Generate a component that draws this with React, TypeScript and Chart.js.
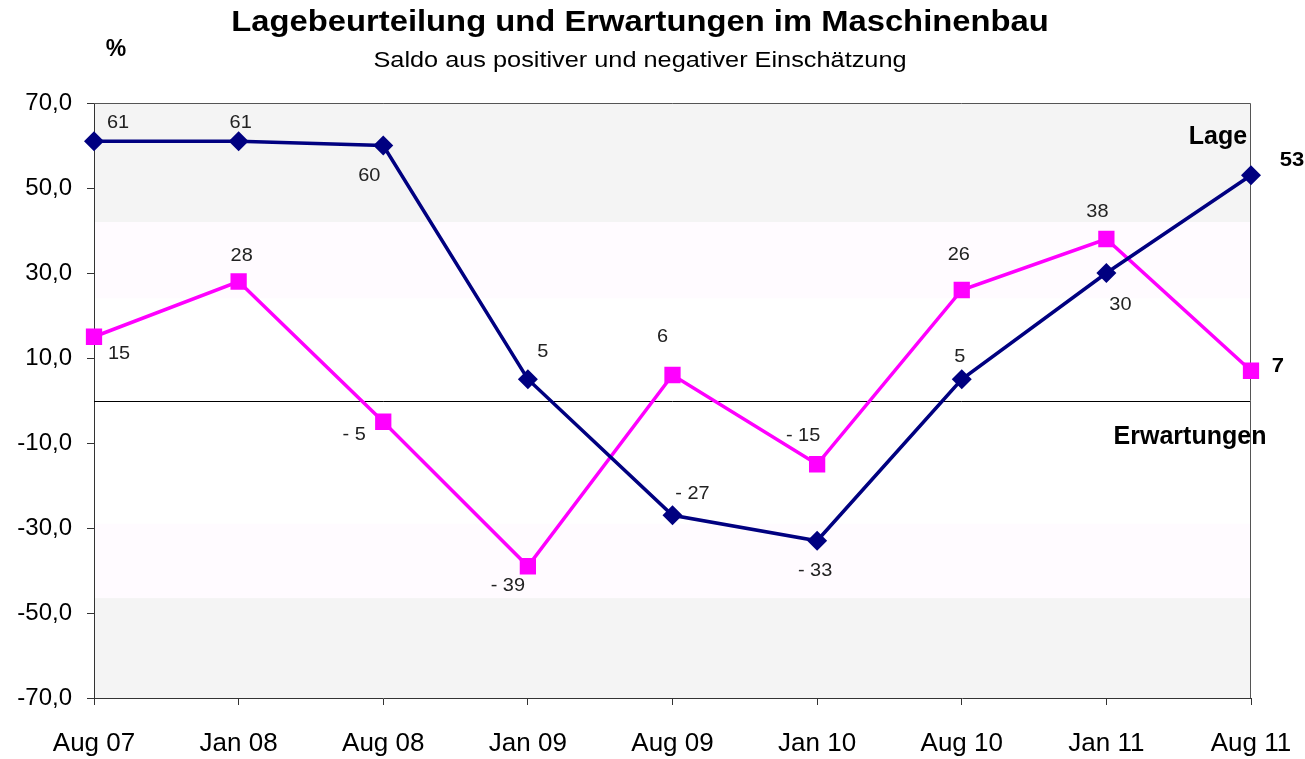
import React, { useEffect, useRef } from "react";
import { Chart, registerables } from "chart.js";

Chart.register(...registerables);

const categories = ["Aug 07", "Jan 08", "Aug 08", "Jan 09", "Aug 09", "Jan 10", "Aug 10", "Jan 11", "Aug 11"];
const lageValues = [61, 61, 60, 5, -27, -33, 5, 30, 53];
const erwartungenValues = [15, 28, -5, -39, 6, -15, 26, 38, 7];
const lageLabels = ["61", "61", "60", "5", "- 27", "- 33", "5", "30", "53"];
const erwartungenLabels = ["15", "28", "- 5", "- 39", "6", "- 15", "26", "38", "7"];
const yTicks = [70, 50, 30, 10, -10, -30, -50, -70];
// background band boundaries (value ranges) and fills
const bandRanges: [number, number][] = [[42, 70], [24, 42], [-29, 24], [-46.5, -29], [-70, -46.5]];
const bandColors = ["#f4f4f4", "#fffbff", "#ffffff", "#fffbff", "#f4f4f4"];

// label offsets (px) relative to each point
const lageOffsets: [number, number][] = [[24, -18], [2, -18], [-14, 30], [15, -27], [20, -21], [-2, 30], [-2, -22], [14, 32], [41, -15]];
const erwOffsets: [number, number][] = [[25, 17], [3, -26], [-29, 13], [-20, 20], [-10, -38], [-14, -28], [-3, -35], [-9, -27], [27, -5]];

const FONT = "'Liberation Sans', Arial, sans-serif";

function stretchText(ctx: CanvasRenderingContext2D, text: string, x: number, y: number, font: string, sx: number, align: CanvasTextAlign = "center") {
  ctx.save();
  ctx.font = font;
  ctx.textAlign = align;
  ctx.textBaseline = "middle";
  ctx.translate(x, y);
  ctx.scale(sx, 1);
  ctx.fillText(text, 0, 0);
  ctx.restore();
}

const decorPlugin = {
  id: "decor",
  beforeDraw(chart: any) {
    const { ctx, chartArea: a, scales } = chart;
    const y = scales.y;
    ctx.save();
    bandRanges.forEach((r, i) => {
      const top = y.getPixelForValue(r[1]);
      const bot = y.getPixelForValue(r[0]);
      ctx.fillStyle = bandColors[i];
      ctx.fillRect(a.left, top, a.right - a.left, bot - top);
    });
    ctx.restore();
  },
  beforeDatasetsDraw(chart: any) {
    const { ctx, chartArea: a, scales } = chart;
    const y0 = Math.round(scales.y.getPixelForValue(0)) + 0.5;
    ctx.save();
    ctx.strokeStyle = "#000";
    ctx.lineWidth = 1;
    ctx.beginPath();
    ctx.moveTo(a.left, y0);
    ctx.lineTo(a.right, y0);
    ctx.stroke();
    ctx.strokeStyle = "#555";
    ctx.beginPath();
    ctx.moveTo(a.left, a.top + 0.5);
    ctx.lineTo(a.right - 0.5, a.top + 0.5);
    ctx.lineTo(a.right - 0.5, a.bottom);
    ctx.stroke();
    ctx.restore();
  },
  afterDatasetsDraw(chart: any) {
    const { ctx, chartArea: a, scales } = chart;
    const xs = scales.x;
    const ys = scales.y;
    ctx.save();
    const last = categories.length - 1;
    lageValues.forEach((v, i) => {
      const px = xs.getPixelForValue(i);
      const py = ys.getPixelForValue(v);
      const bold = i === last;
      ctx.fillStyle = bold ? "#000" : "#222";
      stretchText(ctx, lageLabels[i], px + lageOffsets[i][0], py + lageOffsets[i][1], `${bold ? "bold " : ""}${bold ? 21 : 19}px ${FONT}`, 1.05);
    });
    erwartungenValues.forEach((v, i) => {
      const px = xs.getPixelForValue(i);
      const py = ys.getPixelForValue(v);
      const bold = i === last;
      ctx.fillStyle = bold ? "#000" : "#222";
      stretchText(ctx, erwartungenLabels[i], px + erwOffsets[i][0], py + erwOffsets[i][1], `${bold ? "bold " : ""}${bold ? 21 : 19}px ${FONT}`, 1.05);
    });
    ctx.fillStyle = "#000";
    stretchText(ctx, "Lage", a.right - 33, ys.getPixelForValue(62), `bold 25px ${FONT}`, 1);
    stretchText(ctx, "Erwartungen", a.right - 61, ys.getPixelForValue(-8.7), `bold 25px ${FONT}`, 1);
    ctx.restore();
  },
  afterDraw(chart: any) {
    const { ctx } = chart;
    ctx.save();
    ctx.fillStyle = "#000";
    stretchText(ctx, "Lagebeurteilung und Erwartungen im Maschinenbau", 640, 23, `bold 29px ${FONT}`, 1.13);
    stretchText(ctx, "Saldo aus positiver und negativer Einschätzung", 640, 61, `22px ${FONT}`, 1.15);
    stretchText(ctx, "%", 116, 50, `bold 23px ${FONT}`, 1.0);
    ctx.restore();
  },
};

export default function App() {
  const canvasRef = useRef<HTMLCanvasElement | null>(null);

  useEffect(() => {
    const canvas = canvasRef.current;
    if (!canvas) return;
    const chart = new Chart(canvas, {
      type: "line",
      data: {
        labels: categories,
        datasets: [
          {
            label: "Lage",
            data: lageValues,
            borderColor: "#000080",
            backgroundColor: "#000080",
            borderWidth: 3.5,
            pointStyle: "rectRot",
            pointRadius: 10,
            pointBorderWidth: 0,
            tension: 0,
          },
          {
            label: "Erwartungen",
            data: erwartungenValues,
            borderColor: "#ff00ff",
            backgroundColor: "#ff00ff",
            borderWidth: 3.5,
            pointStyle: "rect",
            pointRadius: 11.5,
            pointBorderWidth: 0,
            tension: 0,
          },
        ],
      },
      options: {
        animation: false,
        responsive: false,
        devicePixelRatio: 1,
        layout: { autoPadding: false, padding: { top: 103, right: 54, left: 0, bottom: 0 } },
        plugins: {
          legend: { display: false },
          tooltip: { enabled: false },
          title: { display: false },
        },
        scales: {
          x: {
            type: "category",
            offset: false,
            grid: { drawOnChartArea: false, drawTicks: true, tickLength: 7, color: "#333" },
            border: { display: true, color: "#333", width: 1 },
            ticks: {
              color: "#000",
              font: { family: FONT, size: 26, lineHeight: 2.05 },
              padding: 12,
              maxRotation: 0,
              autoSkip: false,
            },
            afterFit: (s: any) => {
              s.height = 61;
            },
          },
          y: {
            min: -70,
            max: 70,
            afterBuildTicks: (s: any) => {
              s.ticks = yTicks.map((v) => ({ value: v }));
            },
            grid: { drawOnChartArea: false, drawTicks: true, tickLength: 7, color: "#333" },
            border: { display: true, color: "#333", width: 1 },
            ticks: {
              color: "#000",
              font: { family: FONT, size: 24 },
              padding: 15,
              callback: (v: any) => Number(v).toFixed(1).replace(".", ","),
            },
            afterFit: (s: any) => {
              s.width = 94;
            },
          },
        },
      },
      plugins: [decorPlugin],
    });
    return () => chart.destroy();
  }, []);

  return (
    <div style={{ position: "absolute", left: 0, top: 0, width: 1305, height: 759, background: "#fff" }}>
      <canvas ref={canvasRef} width={1305} height={759} style={{ display: "block", width: 1305, height: 759 }} />
    </div>
  );
}
